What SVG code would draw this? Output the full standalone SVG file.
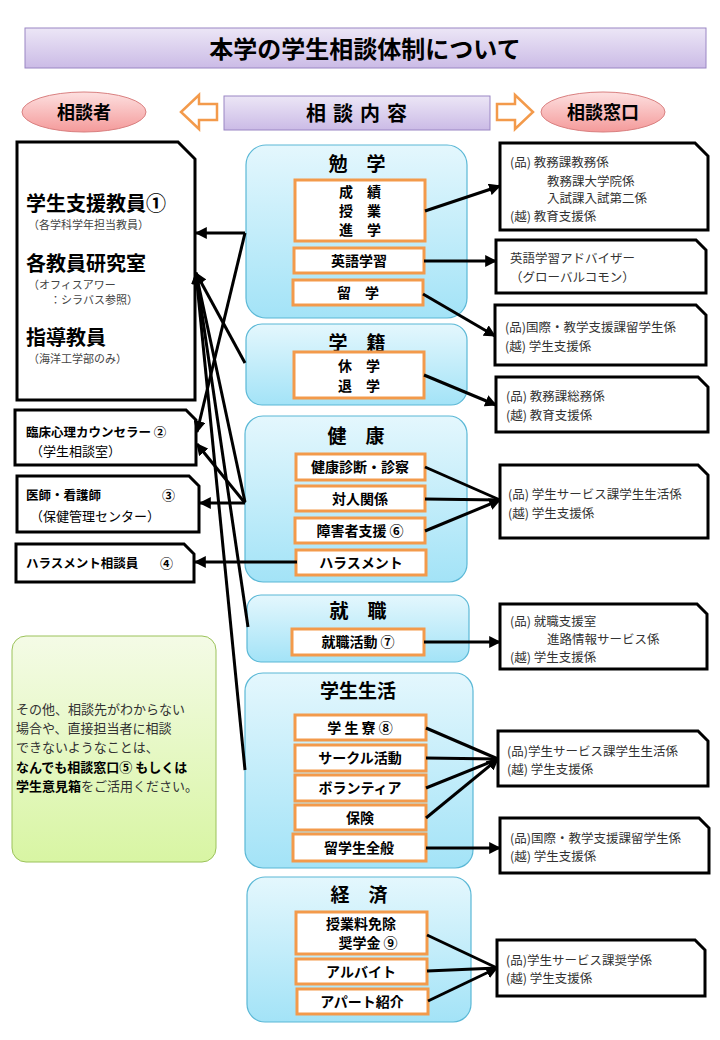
<svg xmlns="http://www.w3.org/2000/svg" width="720" height="1040" viewBox="0 0 720 1040">
<defs>
<linearGradient id="pur" x1="0" y1="0" x2="0" y2="1"><stop offset="0" stop-color="#ece6f6"/><stop offset="1" stop-color="#cbbbe6"/></linearGradient>
<linearGradient id="pink" x1="0" y1="0" x2="0" y2="1"><stop offset="0" stop-color="#fde0e0"/><stop offset="1" stop-color="#f49a9a"/></linearGradient>
<linearGradient id="blue" x1="0" y1="0" x2="0" y2="1"><stop offset="0" stop-color="#e4f7fd"/><stop offset="1" stop-color="#a3e3f7"/></linearGradient>
<linearGradient id="green" x1="0" y1="0" x2="0" y2="1"><stop offset="0" stop-color="#f4fbe6"/><stop offset="1" stop-color="#d8f5a3"/></linearGradient>
<marker id="ah" viewBox="0 0 10 10" refX="9" refY="5" markerWidth="4" markerHeight="4" orient="auto"><path d="M0,0 L10,5 L0,10 z" fill="#000"/></marker>
<style>
text{font-family:"Noto Sans CJK JP","Noto Sans CJK SC",sans-serif;fill:#000}
.grp{fill:url(#blue);stroke:#5bb8d6;stroke-width:1.2}
.item{fill:#fff;stroke:#f39a4b;stroke-width:3}
.doc{fill:#fff;stroke:#000;stroke-width:3}
.gt{font-size:19px;font-weight:bold;text-anchor:middle}
.it{font-size:14px;font-weight:bold;text-anchor:middle}
.rt{font-size:12.5px;fill:#333}
.nt{font-size:13px;fill:#333}
.sm{font-size:11px;fill:#444}
.con line,.con path{stroke:#000;stroke-width:3;fill:none}
.ar{marker-end:url(#ah)}
</style>
</defs>
<rect width="720" height="1040" fill="#fff"/>
<g id="title"><rect x="25" y="28" width="681" height="40" fill="url(#pur)" stroke="#9a86c4" stroke-width="1"/><text x="365" y="58" font-size="24" font-weight="bold" text-anchor="middle">本学の学生相談体制について</text></g>
<g id="h-sodansha"><ellipse cx="84" cy="112" rx="62" ry="20" fill="url(#pink)" stroke="#d98080"/><text x="84" y="119" font-size="18" font-weight="bold" text-anchor="middle">相談者</text></g>
<g id="h-naiyou"><rect x="224" y="96" width="266" height="34" fill="url(#pur)" stroke="#9a86c4"/><text x="360" y="121" font-size="20" font-weight="bold" text-anchor="middle" letter-spacing="7">相談内容</text></g>
<g id="h-madoguchi"><ellipse cx="603" cy="112" rx="62" ry="20" fill="url(#pink)" stroke="#d98080"/><text x="603" y="119" font-size="18" font-weight="bold" text-anchor="middle">相談窓口</text></g>
<g id="arrow-left"><path d="M217,104 L199,104 L199,95 L181,112 L199,129 L199,120 L217,120 Z" fill="#fff" stroke="#f39a4b" stroke-width="2.5"/></g>
<g id="arrow-right"><path d="M497,104 L515,104 L515,95 L533,112 L515,129 L515,120 L497,120 Z" fill="#fff" stroke="#f39a4b" stroke-width="2.5"/></g>

<g id="l1"><path class="doc" d="M17,142 H178 L195,159 V400 H17 Z"/>
<text x="26" y="211" font-size="20" font-weight="bold">学生支援教員①</text><text x="28" y="229" class="sm">（各学科学年担当教員）</text>
<text x="26" y="271" font-size="20" font-weight="bold">各教員研究室</text><text x="28" y="289" class="sm">（オフィスアワー</text><text x="50" y="304" class="sm">：シラバス参照）</text>
<text x="26" y="345" font-size="20" font-weight="bold">指導教員</text><text x="28" y="363" class="sm">（海洋工学部のみ）</text></g>
<g id="l2"><path class="doc" d="M15,410 H186 L196,420 V465 H15 Z"/><text x="26" y="437" font-size="12.5" font-weight="bold">臨床心理カウンセラー ②</text><text x="30" y="456" font-size="13" fill="#444">（学生相談室）</text></g>
<g id="l3"><path class="doc" d="M17,476 H189 L199,486 V532 H17 Z"/><text x="26" y="500" font-size="12.5" font-weight="bold">医師・看護師</text><text x="162" y="500" font-size="13" font-weight="bold">③</text><text x="30" y="521" font-size="13" fill="#444">（保健管理センター）</text></g>
<g id="l4"><path class="doc" d="M16,544 H184 L194,554 V582 H16 Z"/><text x="26" y="568" font-size="12.5" font-weight="bold">ハラスメント相談員</text><text x="160" y="568" font-size="13" font-weight="bold">④</text></g>
<g id="note"><rect x="12" y="636" width="204" height="226" rx="14" fill="url(#green)" stroke="#9bc25a"/>
<text class="nt" x="16" y="714">その他、相談先がわからない</text><text class="nt" x="16" y="733">場合や、直接担当者に相談</text><text class="nt" x="16" y="752">できないようなことは、</text>
<text x="16" y="772" font-size="13" font-weight="bold">なんでも相談窓口⑤ もしくは</text><text x="16" y="791" font-size="13"><tspan font-weight="bold">学生意見箱</tspan><tspan fill="#333">をご活用ください。</tspan></text></g>

<g id="g-bengaku"><rect class="grp" x="246" y="145" width="221" height="173" rx="20"/><text class="gt" x="357" y="171">勉　学</text>
<rect class="item" x="295" y="180" width="130" height="61"/><text class="it" x="360" y="197">成　績</text><text class="it" x="360" y="216">授　業</text><text class="it" x="360" y="235">進　学</text>
<rect class="item" x="294" y="248" width="130" height="25"/><text class="it" x="359" y="266">英語学習</text>
<rect class="item" x="293" y="280" width="130" height="25"/><text class="it" x="358" y="298">留　学</text></g>
<g id="g-gakuseki"><rect class="grp" x="246" y="324" width="221" height="81" rx="16"/><text class="gt" x="357" y="350">学　籍</text>
<rect class="item" x="294" y="352" width="130" height="46"/><text class="it" x="359" y="371">休　学</text><text class="it" x="359" y="391">退　学</text></g>
<g id="g-kenkou"><rect class="grp" x="245" y="416" width="222" height="166" rx="18"/><text class="gt" x="356" y="443">健　康</text>
<rect class="item" x="296" y="454" width="129" height="26"/><text class="it" x="360" y="472">健康診断・診察</text>
<rect class="item" x="296" y="486" width="129" height="25"/><text class="it" x="360" y="504">対人関係</text>
<rect class="item" x="295" y="518" width="130" height="25"/><text class="it" x="360" y="536">障害者支援 ⑥</text>
<rect class="item" x="296" y="550" width="130" height="25"/><text class="it" x="361" y="568">ハラスメント</text></g>
<g id="g-shushoku"><rect class="grp" x="247" y="595" width="222" height="67" rx="14"/><text class="gt" x="358" y="618">就　職</text>
<rect class="item" x="292" y="629" width="132" height="26"/><text class="it" x="358" y="647">就職活動 ⑦</text></g>
<g id="g-seikatsu"><rect class="grp" x="245" y="673" width="228" height="195" rx="18"/><text class="gt" x="358" y="698">学生生活</text>
<rect class="item" x="295" y="715" width="131" height="25"/><text class="it" x="360" y="733">学 生 寮 ⑧</text>
<rect class="item" x="295" y="745" width="131" height="26"/><text class="it" x="360" y="763">サークル活動</text>
<rect class="item" x="295" y="775" width="131" height="26"/><text class="it" x="360" y="793">ボランティア</text>
<rect class="item" x="295" y="805" width="131" height="25"/><text class="it" x="360" y="823">保険</text>
<rect class="item" x="293" y="834" width="133" height="27"/><text class="it" x="359" y="853">留学生全般</text></g>
<g id="g-keizai"><rect class="grp" x="247" y="877" width="224" height="145" rx="18"/><text class="gt" x="359" y="902">経　済</text>
<rect class="item" x="296" y="912" width="131" height="42"/><text class="it" x="361" y="929">授業料免除</text><text class="it" x="368" y="948">奨学金 ⑨</text>
<rect class="item" x="296" y="959" width="131" height="25"/><text class="it" x="361" y="977">アルバイト</text>
<rect class="item" x="297" y="989" width="131" height="25"/><text class="it" x="362" y="1007">アパート紹介</text></g>

<g id="r1"><path class="doc" d="M500,143 H695 L708,156 V230 H500 Z"/><text class="rt" x="510" y="167">(品) 教務課教務係</text><text class="rt" x="547" y="186">教務課大学院係</text><text class="rt" x="547" y="203">入試課入試第二係</text><text class="rt" x="510" y="221">(越) 教育支援係</text></g>
<g id="r2"><path class="doc" d="M496,240 H696 L706,250 V293 H496 Z"/><text class="rt" x="510" y="263">英語学習アドバイザー</text><text class="rt" x="510" y="282">（グローバルコモン）</text></g>
<g id="r3"><path class="doc" d="M495,305 H696 L706,315 V365 H495 Z"/><text class="rt" x="505" y="332">(品)国際・教学支援課留学生係</text><text class="rt" x="505" y="351">(越) 学生支援係</text></g>
<g id="r4"><path class="doc" d="M496,377 H698 L708,387 V432 H496 Z"/><text class="rt" x="506" y="401">(品) 教務課総務係</text><text class="rt" x="506" y="420">(越) 教育支援係</text></g>
<g id="r5"><path class="doc" d="M500,465 H698 L708,475 V538 H500 Z"/><text class="rt" x="508" y="499">(品) 学生サービス課学生生活係</text><text class="rt" x="508" y="518">(越) 学生支援係</text></g>
<g id="r6"><path class="doc" d="M500,604 H697 L707,614 V669 H500 Z"/><text class="rt" x="510" y="626">(品) 就職支援室</text><text class="rt" x="547" y="644">進路情報サービス係</text><text class="rt" x="510" y="662">(越) 学生支援係</text></g>
<g id="r7"><path class="doc" d="M498,731 H698 L708,741 V786 H498 Z"/><text class="rt" x="507" y="756">(品)学生サービス課学生生活係</text><text class="rt" x="507" y="774">(越) 学生支援係</text></g>
<g id="r8"><path class="doc" d="M500,818 H699 L709,828 V873 H500 Z"/><text class="rt" x="510" y="843">(品)国際・教学支援課留学生係</text><text class="rt" x="510" y="861">(越) 学生支援係</text></g>
<g id="r9"><path class="doc" d="M497,940 H695 L705,950 V996 H497 Z"/><text class="rt" x="506" y="965">(品)学生サービス課奨学係</text><text class="rt" x="506" y="983">(越) 学生支援係</text></g>

<g id="connectors" class="con">
<line class="ar" x1="425" y1="211" x2="500" y2="186"/>
<line class="ar" x1="424" y1="261" x2="496" y2="261"/>
<line class="ar" x1="423" y1="294" x2="495" y2="336"/>
<line class="ar" x1="424" y1="375" x2="496" y2="405"/>
<line x1="425" y1="467" x2="500" y2="500"/><line x1="425" y1="499" x2="500" y2="500"/><line class="ar" x1="425" y1="531" x2="500" y2="500"/>
<line class="ar" x1="424" y1="642" x2="500" y2="642"/>
<line x1="426" y1="728" x2="498" y2="759"/><line x1="426" y1="758" x2="498" y2="759"/><line x1="426" y1="788" x2="498" y2="759"/><line class="ar" x1="426" y1="818" x2="498" y2="759"/>
<line class="ar" x1="426" y1="848" x2="500" y2="848"/>
<line x1="427" y1="935" x2="497" y2="968"/><line x1="427" y1="971" x2="497" y2="968"/><line class="ar" x1="428" y1="1001" x2="497" y2="968"/>
<line class="ar" x1="245" y1="233" x2="196" y2="233"/>
<line class="ar" x1="245" y1="233" x2="197" y2="432"/>
<line class="ar" x1="245" y1="363" x2="196" y2="273"/>
<line class="ar" x1="245" y1="502" x2="196" y2="273"/>
<line class="ar" x1="248" y1="627" x2="196" y2="273"/>
<line class="ar" x1="245" y1="770" x2="196" y2="273"/>
<line class="ar" x1="245" y1="503" x2="197" y2="444"/>
<line class="ar" x1="245" y1="503" x2="200" y2="503"/>
<line class="ar" x1="297" y1="562" x2="195" y2="562"/>
</g>
</svg>
